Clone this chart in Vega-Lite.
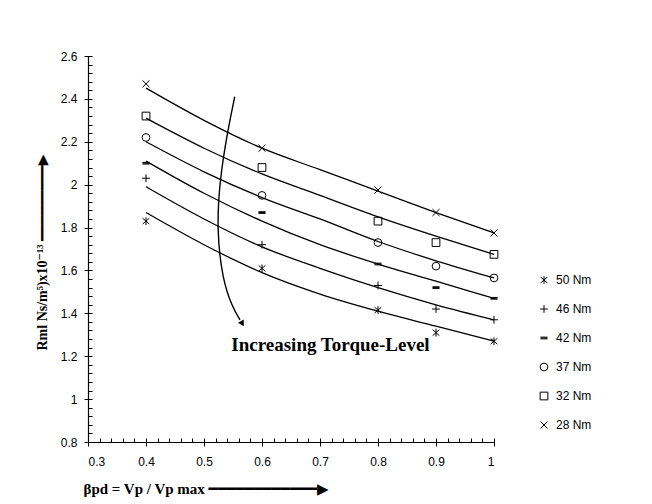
{
  "$schema": "https://vega.github.io/schema/vega-lite/v6.json",
  "autosize": "none",
  "width": 406,
  "height": 386,
  "padding": {"left": 88, "top": 56, "right": 158, "bottom": 62},
  "background": "white",
  "config": {
    "view": {"stroke": null},
    "font": "Liberation Sans"
  },
  "datasets": {
    "points": [
      {"x": 0.4, "r": 2.47, "torque": "28 Nm"}, {"x": 0.6, "r": 2.17, "torque": "28 Nm"}, {"x": 0.8, "r": 1.975, "torque": "28 Nm"}, {"x": 0.9, "r": 1.87, "torque": "28 Nm"}, {"x": 1.0, "r": 1.775, "torque": "28 Nm"},
      {"x": 0.4, "r": 2.32, "torque": "32 Nm"}, {"x": 0.6, "r": 2.08, "torque": "32 Nm"}, {"x": 0.8, "r": 1.83, "torque": "32 Nm"}, {"x": 0.9, "r": 1.73, "torque": "32 Nm"}, {"x": 1.0, "r": 1.675, "torque": "32 Nm"},
      {"x": 0.4, "r": 2.22, "torque": "37 Nm"}, {"x": 0.6, "r": 1.95, "torque": "37 Nm"}, {"x": 0.8, "r": 1.73, "torque": "37 Nm"}, {"x": 0.9, "r": 1.62, "torque": "37 Nm"}, {"x": 1.0, "r": 1.565, "torque": "37 Nm"},
      {"x": 0.4, "r": 2.10, "torque": "42 Nm"}, {"x": 0.6, "r": 1.87, "torque": "42 Nm"}, {"x": 0.8, "r": 1.63, "torque": "42 Nm"}, {"x": 0.9, "r": 1.52, "torque": "42 Nm"}, {"x": 1.0, "r": 1.47, "torque": "42 Nm"},
      {"x": 0.4, "r": 2.03, "torque": "46 Nm"}, {"x": 0.6, "r": 1.72, "torque": "46 Nm"}, {"x": 0.8, "r": 1.53, "torque": "46 Nm"}, {"x": 0.9, "r": 1.42, "torque": "46 Nm"}, {"x": 1.0, "r": 1.37, "torque": "46 Nm"},
      {"x": 0.4, "r": 1.83, "torque": "50 Nm"}, {"x": 0.6, "r": 1.61, "torque": "50 Nm"}, {"x": 0.8, "r": 1.415, "torque": "50 Nm"}, {"x": 0.9, "r": 1.31, "torque": "50 Nm"}, {"x": 1.0, "r": 1.27, "torque": "50 Nm"}
    ],
    "lines": [
      {"x": 0.4, "r": 2.45, "torque": "28 Nm"}, {"x": 0.5, "r": 2.30, "torque": "28 Nm"}, {"x": 0.6, "r": 2.17, "torque": "28 Nm"}, {"x": 0.7, "r": 2.07, "torque": "28 Nm"}, {"x": 0.8, "r": 1.97, "torque": "28 Nm"}, {"x": 0.9, "r": 1.87, "torque": "28 Nm"}, {"x": 1.0, "r": 1.775, "torque": "28 Nm"},
      {"x": 0.4, "r": 2.31, "torque": "32 Nm"}, {"x": 0.5, "r": 2.17, "torque": "32 Nm"}, {"x": 0.6, "r": 2.05, "torque": "32 Nm"}, {"x": 0.7, "r": 1.95, "torque": "32 Nm"}, {"x": 0.8, "r": 1.85, "torque": "32 Nm"}, {"x": 0.9, "r": 1.76, "torque": "32 Nm"}, {"x": 1.0, "r": 1.675, "torque": "32 Nm"},
      {"x": 0.4, "r": 2.20, "torque": "37 Nm"}, {"x": 0.5, "r": 2.06, "torque": "37 Nm"}, {"x": 0.6, "r": 1.94, "torque": "37 Nm"}, {"x": 0.7, "r": 1.84, "torque": "37 Nm"}, {"x": 0.8, "r": 1.735, "torque": "37 Nm"}, {"x": 0.9, "r": 1.645, "torque": "37 Nm"}, {"x": 1.0, "r": 1.565, "torque": "37 Nm"},
      {"x": 0.4, "r": 2.11, "torque": "42 Nm"}, {"x": 0.5, "r": 1.96, "torque": "42 Nm"}, {"x": 0.6, "r": 1.83, "torque": "42 Nm"}, {"x": 0.7, "r": 1.72, "torque": "42 Nm"}, {"x": 0.8, "r": 1.63, "torque": "42 Nm"}, {"x": 0.9, "r": 1.55, "torque": "42 Nm"}, {"x": 1.0, "r": 1.47, "torque": "42 Nm"},
      {"x": 0.4, "r": 1.99, "torque": "46 Nm"}, {"x": 0.5, "r": 1.84, "torque": "46 Nm"}, {"x": 0.6, "r": 1.71, "torque": "46 Nm"}, {"x": 0.7, "r": 1.61, "torque": "46 Nm"}, {"x": 0.8, "r": 1.52, "torque": "46 Nm"}, {"x": 0.9, "r": 1.44, "torque": "46 Nm"}, {"x": 1.0, "r": 1.37, "torque": "46 Nm"},
      {"x": 0.4, "r": 1.87, "torque": "50 Nm"}, {"x": 0.5, "r": 1.72, "torque": "50 Nm"}, {"x": 0.6, "r": 1.59, "torque": "50 Nm"}, {"x": 0.7, "r": 1.49, "torque": "50 Nm"}, {"x": 0.8, "r": 1.41, "torque": "50 Nm"}, {"x": 0.9, "r": 1.34, "torque": "50 Nm"}, {"x": 1.0, "r": 1.27, "torque": "50 Nm"}
    ],
    "arrow": [
      {"x": 0.553, "r": 2.41, "ord": 1},
      {"x": 0.541, "r": 2.255, "ord": 2},
      {"x": 0.527, "r": 2.022, "ord": 3},
      {"x": 0.522, "r": 1.788, "ord": 4},
      {"x": 0.532, "r": 1.555, "ord": 5},
      {"x": 0.549, "r": 1.429, "ord": 6},
      {"x": 0.562, "r": 1.37, "ord": 7}
    ],
    "arrowhead": [{"x": 0.566, "r": 1.352}],
    "label": [{"x": 0.718, "r": 1.252, "text": "Increasing Torque-Level"}]
  },
  "layer": [
    {
      "data": {"name": "lines"},
      "mark": {"type": "line", "color": "black", "strokeWidth": 1.3, "interpolate": "monotone"},
      "encoding": {
        "x": {"field": "x", "type": "quantitative",
          "scale": {"domain": [0.3, 1.0], "nice": false, "zero": false},
          "axis": {"orient": "bottom", "domain": true, "domainColor": "black", "domainWidth": 1.2, "ticks": false, "grid": false,
            "values": [0.3, 0.4, 0.5, 0.6, 0.7, 0.8, 0.9, 1.0],
            "labelExpr": "datum.value == 1 ? '1' : format(datum.value, '.1f')",
            "labelFont": "Liberation Sans", "labelFontSize": 12, "labelColor": "black", "labelPadding": 14,
            "title": "βpd = Vp / Vp max    ━━━━━━━━━━━━▶",
            "titleFont": "Liberation Serif, DejaVu Sans", "titleFontSize": 15, "titleFontWeight": "bold", "titleColor": "black",
            "titleX": -5, "titleY": 46, "titleAlign": "left", "titleBaseline": "middle", "titleAngle": 0}},
        "y": {"field": "r", "type": "quantitative",
          "scale": {"domain": [0.8, 2.6], "nice": false, "zero": false},
          "axis": {"orient": "left", "domain": true, "domainColor": "black", "domainWidth": 1.2, "ticks": false, "grid": false,
            "values": [0.8, 1.0, 1.2, 1.4, 1.6, 1.8, 2.0, 2.2, 2.4, 2.6],
            "labelExpr": "datum.value == 1 ? '1' : datum.value == 2 ? '2' : format(datum.value, '.1f')",
            "labelFont": "Liberation Sans", "labelFontSize": 12, "labelColor": "black", "labelPadding": 11,
            "title": "Rml  Ns/m⁵)x10⁻¹³   ━━━━━━━━━▶",
            "titleFont": "Liberation Serif, DejaVu Sans", "titleFontSize": 14, "titleFontWeight": "bold", "titleColor": "black",
            "titleX": -46, "titleY": 196, "titleAlign": "center", "titleBaseline": "middle", "titleAngle": -90}},
        "detail": {"field": "torque", "type": "nominal"}
      }
    },
    {
      "data": {"name": "points"},
      "mark": {"type": "point", "filled": false, "color": "black", "strokeWidth": 1, "size": 60, "opacity": 1},
      "encoding": {
        "x": {"field": "x", "type": "quantitative",
          "axis": {"orient": "bottom", "offset": -4, "domain": false, "labels": false, "grid": false, "title": null,
            "values": [0.3, 0.32, 0.34, 0.36, 0.38, 0.4, 0.42, 0.44, 0.46, 0.48, 0.5, 0.52, 0.54, 0.56, 0.58, 0.6, 0.62, 0.64, 0.66, 0.68, 0.7, 0.72, 0.74, 0.76, 0.78, 0.8, 0.82, 0.84, 0.86, 0.88, 0.9, 0.92, 0.94, 0.96, 0.98, 1.0],
            "tickColor": "black", "tickWidth": 1,
            "tickSize": {"condition": {"test": "abs(datum.value*10 - round(datum.value*10)) < 0.001", "value": 8}, "value": 4}}},
        "y": {"field": "r", "type": "quantitative",
          "axis": {"orient": "left", "offset": -4, "domain": false, "labels": false, "grid": false, "title": null,
            "values": [0.8, 0.84, 0.88, 0.92, 0.96, 1.0, 1.04, 1.08, 1.12, 1.16, 1.2, 1.24, 1.28, 1.32, 1.36, 1.4, 1.44, 1.48, 1.52, 1.56, 1.6, 1.64, 1.68, 1.72, 1.76, 1.8, 1.84, 1.88, 1.92, 1.96, 2.0, 2.04, 2.08, 2.12, 2.16, 2.2, 2.24, 2.28, 2.32, 2.36, 2.4, 2.44, 2.48, 2.52, 2.56, 2.6],
            "tickColor": "black", "tickWidth": 1,
            "tickSize": {"condition": {"test": "abs(datum.value*5 - round(datum.value*5)) < 0.001", "value": 8}, "value": 4}}},
        "shape": {"field": "torque", "type": "nominal",
          "scale": {
            "domain": ["50 Nm", "46 Nm", "42 Nm", "37 Nm", "32 Nm", "28 Nm"],
            "range": [
              "M0,-1L0,1M-0.87,-0.75L0.87,0.75M-0.87,0.75L0.87,-0.75",
              "M-1,0L1,0M0,-1L0,1",
              "M-0.9,-0.22L0.9,-0.22M-0.9,0L0.9,0M-0.9,0.22L0.9,0.22",
              "circle",
              "square",
              "M-0.9,-0.9L0.9,0.9M-0.9,0.9L0.9,-0.9"
            ]},
          "legend": {"orient": "none", "legendX": 450, "legendY": 218, "title": null,
            "symbolStrokeColor": "black", "symbolFillColor": "transparent", "symbolStrokeWidth": 1, "symbolSize": 60,
            "labelFont": "Liberation Sans", "labelFontSize": 12, "labelColor": "black", "labelOffset": 6,
            "rowPadding": 17, "padding": 0}}
      }
    },
    {
      "data": {"name": "arrow"},
      "mark": {"type": "line", "color": "black", "strokeWidth": 1.4, "interpolate": "basis"},
      "encoding": {
        "x": {"field": "x", "type": "quantitative", "axis": null},
        "y": {"field": "r", "type": "quantitative", "axis": null},
        "order": {"field": "ord", "type": "quantitative"}
      }
    },
    {
      "data": {"name": "arrowhead"},
      "mark": {"type": "point", "shape": "triangle-down", "filled": true, "color": "black", "size": 45, "angle": -30, "opacity": 1},
      "encoding": {
        "x": {"field": "x", "type": "quantitative", "axis": null},
        "y": {"field": "r", "type": "quantitative", "axis": null}
      }
    },
    {
      "data": {"name": "label"},
      "mark": {"type": "text", "font": "Liberation Serif", "fontSize": 19, "fontWeight": "bold", "color": "black", "align": "center", "baseline": "middle"},
      "encoding": {
        "x": {"field": "x", "type": "quantitative", "axis": null},
        "y": {"field": "r", "type": "quantitative", "axis": null},
        "text": {"field": "text", "type": "nominal"}
      }
    }
  ],
  "resolve": {"axis": {"x": "independent", "y": "independent"}}
}
